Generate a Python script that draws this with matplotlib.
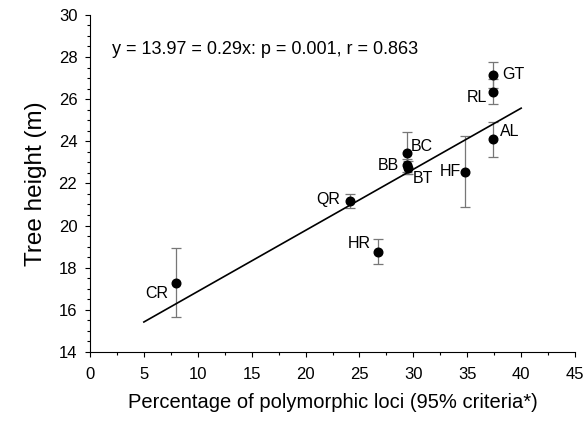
import matplotlib
matplotlib.use("Agg")
import matplotlib.pyplot as plt
from matplotlib.ticker import MultipleLocator

plt.rcParams['font.family'] = ['Liberation Sans', 'DejaVu Sans']

sites = ["GT", "RL", "AL", "BC", "BB", "BT", "HF", "QR", "HR", "CR"]
poly_loci = [37.4, 37.4, 37.4, 29.4, 29.4, 29.5, 34.8, 24.1, 26.7, 8.0]
height = [27.15, 26.36, 24.1, 23.43, 22.86, 22.75, 22.56, 21.15, 18.75, 17.29]
height_err = [0.6, 0.6, 0.83, 1.0, 0.3, 0.3, 1.7, 0.33, 0.6, 1.65]
label_offsets = {"GT": (6.5, 0, "left"), "RL": (-4.3, -4, "right"), "AL": (5, 5.5, "left"),
                 "BC": (3, 4.8, "left"), "BB": (-6, 0, "right"), "BT": (3.5, -8, "left"),
                 "HF": (-3, 0, "right"), "QR": (-7, 1, "right"), "HR": (-5, 6.3, "right"),
                 "CR": (-5.5, -8, "right")}
intercept, slope = 13.97, 0.29
fit_x = [5, 40]

fig = plt.figure(figsize=(5.88, 4.24), dpi=100)
ax = fig.add_axes([0.153, 0.170, 0.825, 0.795])

ax.errorbar(poly_loci, height, yerr=height_err, fmt='none', ecolor='#777777',
            elinewidth=0.9, capsize=3.5, capthick=0.9, zorder=2)
fit_y = [intercept + slope * x for x in fit_x]
ax.plot(fit_x, fit_y, color='black', lw=1.2, zorder=3)
ax.plot(poly_loci, height, 'o', color='black', markersize=6.2, zorder=4)

for s, x, y in zip(sites, poly_loci, height):
    dx, dy, ha = label_offsets[s]
    ax.annotate(s, (x, y), xytext=(dx, dy), textcoords='offset points',
                ha=ha, va='center', fontsize=11.5)

ax.text(2.05, 28.36, "y = 13.97 = 0.29x: p = 0.001, r = 0.863", fontsize=13,
        va='center', ha='left')

ax.set_xlim(0, 45)
ax.set_ylim(14, 30)
ax.xaxis.set_major_locator(MultipleLocator(5))
ax.xaxis.set_minor_locator(MultipleLocator(2.5))
ax.yaxis.set_major_locator(MultipleLocator(2))
ax.yaxis.set_minor_locator(MultipleLocator(0.5))
ax.tick_params(which='both', direction='out', labelsize=12, width=0.8)
ax.tick_params(which='major', length=3.6)
ax.tick_params(axis='y', which='major', pad=5.5)
ax.tick_params(axis='x', which='major', pad=7)
ax.tick_params(which='minor', length=2.2)
ax.spines['top'].set_visible(False)
ax.spines['right'].set_visible(False)
ax.set_xlabel("Percentage of polymorphic loci (95% criteria*)", fontsize=14.5, labelpad=8)
ax.set_ylabel("Tree height (m)", fontsize=17.5, labelpad=8)

fig.savefig("out.png", dpi=100)
